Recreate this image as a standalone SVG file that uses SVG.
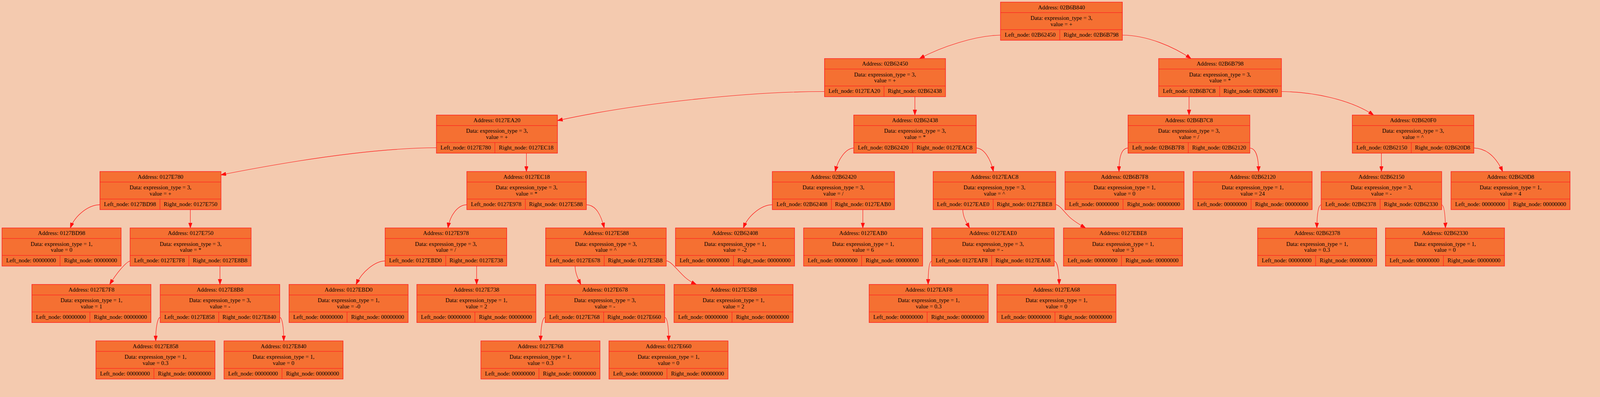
<svg xmlns="http://www.w3.org/2000/svg" width="4192" height="1017" viewBox="0 0 4192 1017">
<style>
.node rect{fill:#F57032;stroke:#FF2020;stroke-width:1.5}
.node path{fill:none;stroke:#FF2020;stroke-width:1.3}
text{font-family:"Liberation Serif","Times New Roman",serif;font-size:15.4px;fill:#000;text-anchor:middle}
#edges path{fill:none;stroke:#FF1010;stroke-width:1.2;marker-end:url(#arr)}
</style>
<defs>
<marker id="arr" markerUnits="userSpaceOnUse" markerWidth="14" markerHeight="10" refX="14" refY="5" orient="auto"><path d="M0,0 L14,5 L0,10 z" fill="#FF1010" stroke="#FF1010" stroke-width="1"/></marker>
</defs>
<rect width="4192" height="1017" fill="#F4CAAF"/>
<g id="diagram" transform="scale(0.96)">
<g id="edges">
<path d="M2668,93.7 C2600,95 2510,125 2452,156.3"/>
<path d="M2993,93.7 C3060,94 3130,125 3176,156.3"/>
<path d="M2198.7,244.3 C2000,244 1700,275 1486.5,321.7"/>
<path d="M2439.7,258 L2439.7,307"/>
<path d="M3170.8,258 L3170.8,307"/>
<path d="M3417.2,244.3 C3500,245 3600,265 3663,307"/>
<path d="M1163.8,394.3 C1000,395 800,425 589,466.7"/>
<path d="M1403.7,408.7 L1403.7,457.7"/>
<path d="M2276.8,395 C2255,396 2235,425 2227.2,457.7"/>
<path d="M2603.6,395 C2625,396 2642,425 2649,457.7"/>
<path d="M3008.1,395 C2990,396 2984,420 2984,457.7"/>
<path d="M3332.9,395 C3350,396 3356,420 3356.3,457.7"/>
<path d="M3683.7,408.7 L3683.7,457.7"/>
<path d="M3930.2,395 C3965,396 3990,420 4007.2,457.7"/>
<path d="M266.5,546.3 C235,547 200,575 187.5,608.3"/>
<path d="M507.6,559.3 L507.6,608.3"/>
<path d="M1244.9,546.3 C1220,547 1200,575 1194.6,608.3"/>
<path d="M1563.6,546.3 C1590,547 1603,575 1611.2,608.3"/>
<path d="M2059.5,546.3 C2030,547 1995,575 1982.2,608.3"/>
<path d="M2300.9,559.3 L2300.9,608.3"/>
<path d="M2567.4,559.3 C2568,580 2578,595 2585.5,608.3"/>
<path d="M2815.2,546 C2826,547 2838,566 2853,580 C2866,592 2882,601 2894.9,608.3"/>
<path d="M3523,546.3 C3515,548 3512,575 3511.6,608.3"/>
<path d="M3844.5,546.3 C3852,548 3854,575 3854.5,608.3"/>
<path d="M346.9,696.3 C335,700 310,730 292.6,759"/>
<path d="M586.6,710 L586.6,759"/>
<path d="M1027,696.3 C1000,697 965,725 949.6,759"/>
<path d="M1271,710 L1271,759"/>
<path d="M1533.5,710 C1534,730 1542,745 1549,759"/>
<path d="M1776.6,696 C1790,697 1805,720 1826.8,740 C1838,750 1848,755 1857,759"/>
<path d="M2484.4,696.7 C2477,698 2475,725 2475,759"/>
<path d="M2811.2,696.7 C2820,698 2824,725 2824.5,759"/>
<path d="M427.2,846.7 C420,848 415,875 415.2,909.7"/>
<path d="M746,846.7 C753,848 756.5,875 756.7,909.7"/>
<path d="M1453.8,846.7 C1446,848 1442,875 1441.7,909.7"/>
<path d="M1772.6,846.7 C1780,848 1783,875 1783.3,909.7"/>
</g>

<g id="n_02B6B840" class="node" transform="translate(2668,5.7)"><rect width="325" height="101.7"/><path d="M0,28H325M0,73.3H325M158,73.3V101.7"/><text x="162.5" y="19">Address: 02B6B840</text><text x="162.5" y="47.5">Data: expression_type = 3,</text><text x="162.5" y="64">value = +</text><text x="79" y="92">Left_node: 02B62450</text><text x="241.5" y="92">Right_node: 02B6B798</text></g>

<g id="n_02B62450" class="node" transform="translate(2198.7,156.3)"><rect width="322.7" height="101.7"/><path d="M0,28H322.7M0,73.3H322.7M158.7,73.3V101.7"/><text x="161.35" y="19">Address: 02B62450</text><text x="161.35" y="47.5">Data: expression_type = 3,</text><text x="161.35" y="64">value = +</text><text x="79.35" y="92">Left_node: 0127EA20</text><text x="240.7" y="92">Right_node: 02B62438</text></g>

<g id="n_02B6B798" class="node" transform="translate(3089.7,156.3)"><rect width="327.5" height="101.7"/><path d="M0,28H327.5M0,73.3H327.5M162.8,73.3V101.7"/><text x="163.75" y="19">Address: 02B6B798</text><text x="163.75" y="47.5">Data: expression_type = 3,</text><text x="163.75" y="64">value = *</text><text x="81.4" y="92">Left_node: 02B6B7C8</text><text x="245.15" y="92">Right_node: 02B620F0</text></g>

<g id="n_0127EA20" class="node" transform="translate(1163.8,307)"><rect width="322.7" height="101.7"/><path d="M0,28H322.7M0,73.3H322.7M155.8,73.3V101.7"/><text x="161.35" y="19">Address: 0127EA20</text><text x="161.35" y="47.5">Data: expression_type = 3,</text><text x="161.35" y="64">value = +</text><text x="77.9" y="92">Left_node: 0127E780</text><text x="239.25" y="92">Right_node: 0127EC18</text></g>

<g id="n_02B62438" class="node" transform="translate(2276.6,307)"><rect width="326.8" height="101.7"/><path d="M0,28H326.8M0,73.3H326.8M157,73.3V101.7"/><text x="163.4" y="19">Address: 02B62438</text><text x="163.4" y="47.5">Data: expression_type = 3,</text><text x="163.4" y="64">value = *</text><text x="78.5" y="92">Left_node: 02B62420</text><text x="241.9" y="92">Right_node: 0127EAC8</text></g>

<g id="n_02B6B7C8" class="node" transform="translate(3008.1,307)"><rect width="324.8" height="101.7"/><path d="M0,28H324.8M0,73.3H324.8M160.7,73.3V101.7"/><text x="162.4" y="19">Address: 02B6B7C8</text><text x="162.4" y="47.5">Data: expression_type = 3,</text><text x="162.4" y="64">value = /</text><text x="80.35" y="92">Left_node: 02B6B7F8</text><text x="242.75" y="92">Right_node: 02B62120</text></g>

<g id="n_02B620F0" class="node" transform="translate(3606.1,307)"><rect width="324.1" height="101.7"/><path d="M0,28H324.1M0,73.3H324.1M157.3,73.3V101.7"/><text x="162.05" y="19">Address: 02B620F0</text><text x="162.05" y="47.5">Data: expression_type = 3,</text><text x="162.05" y="64">value = ^</text><text x="78.65" y="92">Left_node: 02B62150</text><text x="240.7" y="92">Right_node: 02B620D8</text></g>

<g id="n_0127E780" class="node" transform="translate(266.5,457.7)"><rect width="322.8" height="101.7"/><path d="M0,28H322.8M0,73.3H322.8M160.1,73.3V101.7"/><text x="161.4" y="19">Address: 0127E780</text><text x="161.4" y="47.5">Data: expression_type = 3,</text><text x="161.4" y="64">value = +</text><text x="80.05" y="92">Left_node: 0127BD98</text><text x="241.45" y="92">Right_node: 0127E750</text></g>

<g id="n_0127EC18" class="node" transform="translate(1244.9,457.7)"><rect width="318.7" height="101.7"/><path d="M0,28H318.7M0,73.3H318.7M156,73.3V101.7"/><text x="159.35" y="19">Address: 0127EC18</text><text x="159.35" y="47.5">Data: expression_type = 3,</text><text x="159.35" y="64">value = *</text><text x="78" y="92">Left_node: 0127E978</text><text x="237.35" y="92">Right_node: 0127E588</text></g>

<g id="n_02B62420" class="node" transform="translate(2059.5,457.7)"><rect width="325.8" height="101.7"/><path d="M0,28H325.8M0,73.3H325.8M157.7,73.3V101.7"/><text x="162.9" y="19">Address: 02B62420</text><text x="162.9" y="47.5">Data: expression_type = 3,</text><text x="162.9" y="64">value = /</text><text x="78.85" y="92">Left_node: 02B62408</text><text x="241.75" y="92">Right_node: 0127EAB0</text></g>

<g id="n_0127EAC8" class="node" transform="translate(2488.4,457.7)"><rect width="326.8" height="101.7"/><path d="M0,28H326.8M0,73.3H326.8M160,73.3V101.7"/><text x="163.4" y="19">Address: 0127EAC8</text><text x="163.4" y="47.5">Data: expression_type = 3,</text><text x="163.4" y="64">value = ^</text><text x="80" y="92">Left_node: 0127EAE0</text><text x="243.4" y="92">Right_node: 0127EBE8</text></g>

<g id="n_02B6B7F8" class="node" transform="translate(2840,457.7)"><rect width="317.5" height="101.7"/><path d="M0,28H317.5M0,73.3H317.5M154.7,73.3V101.7"/><text x="158.75" y="19">Address: 02B6B7F8</text><text x="158.75" y="47.5">Data: expression_type = 1,</text><text x="158.75" y="64">value = 0</text><text x="77.35" y="92">Left_node: 00000000</text><text x="236.1" y="92">Right_node: 00000000</text></g>

<g id="n_02B62120" class="node" transform="translate(3181.5,457.7)"><rect width="317.5" height="101.7"/><path d="M0,28H317.5M0,73.3H317.5M154.7,73.3V101.7"/><text x="158.75" y="19">Address: 02B62120</text><text x="158.75" y="47.5">Data: expression_type = 1,</text><text x="158.75" y="64">value = 24</text><text x="77.35" y="92">Left_node: 00000000</text><text x="236.1" y="92">Right_node: 00000000</text></g>

<g id="n_02B62150" class="node" transform="translate(3523,457.7)"><rect width="321.5" height="101.7"/><path d="M0,28H321.5M0,73.3H321.5M157.4,73.3V101.7"/><text x="160.75" y="19">Address: 02B62150</text><text x="160.75" y="47.5">Data: expression_type = 3,</text><text x="160.75" y="64">value = -</text><text x="78.7" y="92">Left_node: 02B62378</text><text x="239.45" y="92">Right_node: 02B62330</text></g>

<g id="n_02B620D8" class="node" transform="translate(3869.3,457.7)"><rect width="317.5" height="101.7"/><path d="M0,28H317.5M0,73.3H317.5M154.7,73.3V101.7"/><text x="158.75" y="19">Address: 02B620D8</text><text x="158.75" y="47.5">Data: expression_type = 1,</text><text x="158.75" y="64">value = 4</text><text x="77.35" y="92">Left_node: 00000000</text><text x="236.1" y="92">Right_node: 00000000</text></g>

<g id="n_0127BD98" class="node" transform="translate(5.4,608.3)"><rect width="317.5" height="101.7"/><path d="M0,28H317.5M0,73.3H317.5M154.7,73.3V101.7"/><text x="158.75" y="19">Address: 0127BD98</text><text x="158.75" y="47.5">Data: expression_type = 1,</text><text x="158.75" y="64">value = 0</text><text x="77.35" y="92">Left_node: 00000000</text><text x="236.1" y="92">Right_node: 00000000</text></g>

<g id="n_0127E750" class="node" transform="translate(346.9,608.3)"><rect width="322.7" height="101.7"/><path d="M0,28H322.7M0,73.3H322.7M156.7,73.3V101.7"/><text x="161.35" y="19">Address: 0127E750</text><text x="161.35" y="47.5">Data: expression_type = 3,</text><text x="161.35" y="64">value = *</text><text x="78.35" y="92">Left_node: 0127E7F8</text><text x="239.7" y="92">Right_node: 0127E8B8</text></g>

<g id="n_0127E978" class="node" transform="translate(1027,608.3)"><rect width="324.3" height="101.7"/><path d="M0,28H324.3M0,73.3H324.3M161.6,73.3V101.7"/><text x="162.15" y="19">Address: 0127E978</text><text x="162.15" y="47.5">Data: expression_type = 3,</text><text x="162.15" y="64">value = /</text><text x="80.8" y="92">Left_node: 0127EBD0</text><text x="242.95" y="92">Right_node: 0127E738</text></g>

<g id="n_0127E588" class="node" transform="translate(1455.1,608.3)"><rect width="321.5" height="101.7"/><path d="M0,28H321.5M0,73.3H321.5M156.1,73.3V101.7"/><text x="160.75" y="19">Address: 0127E588</text><text x="160.75" y="47.5">Data: expression_type = 3,</text><text x="160.75" y="64">value = ^</text><text x="78.05" y="92">Left_node: 0127E678</text><text x="238.8" y="92">Right_node: 0127E5B8</text></g>

<g id="n_02B62408" class="node" transform="translate(1801.3,608.3)"><rect width="317.5" height="101.7"/><path d="M0,28H317.5M0,73.3H317.5M154.7,73.3V101.7"/><text x="158.75" y="19">Address: 02B62408</text><text x="158.75" y="47.5">Data: expression_type = 1,</text><text x="158.75" y="64">value = -2</text><text x="77.35" y="92">Left_node: 00000000</text><text x="236.1" y="92">Right_node: 00000000</text></g>

<g id="n_0127EAB0" class="node" transform="translate(2142.9,608.3)"><rect width="317.5" height="101.7"/><path d="M0,28H317.5M0,73.3H317.5M154.7,73.3V101.7"/><text x="158.75" y="19">Address: 0127EAB0</text><text x="158.75" y="47.5">Data: expression_type = 1,</text><text x="158.75" y="64">value = 6</text><text x="77.35" y="92">Left_node: 00000000</text><text x="236.1" y="92">Right_node: 00000000</text></g>

<g id="n_0127EAE0" class="node" transform="translate(2484.4,608.3)"><rect width="326.8" height="101.7"/><path d="M0,28H326.8M0,73.3H326.8M160,73.3V101.7"/><text x="163.4" y="19">Address: 0127EAE0</text><text x="163.4" y="47.5">Data: expression_type = 3,</text><text x="163.4" y="64">value = -</text><text x="80" y="92">Left_node: 0127EAF8</text><text x="243.4" y="92">Right_node: 0127EA68</text></g>

<g id="n_0127EBE8" class="node" transform="translate(2835.9,608.3)"><rect width="317.5" height="101.7"/><path d="M0,28H317.5M0,73.3H317.5M154.7,73.3V101.7"/><text x="158.75" y="19">Address: 0127EBE8</text><text x="158.75" y="47.5">Data: expression_type = 1,</text><text x="158.75" y="64">value = 3</text><text x="77.35" y="92">Left_node: 00000000</text><text x="236.1" y="92">Right_node: 00000000</text></g>

<g id="n_02B62378" class="node" transform="translate(3353.6,608.3)"><rect width="317.5" height="101.7"/><path d="M0,28H317.5M0,73.3H317.5M154.7,73.3V101.7"/><text x="158.75" y="19">Address: 02B62378</text><text x="158.75" y="47.5">Data: expression_type = 1,</text><text x="158.75" y="64">value = 0.3</text><text x="77.35" y="92">Left_node: 00000000</text><text x="236.1" y="92">Right_node: 00000000</text></g>

<g id="n_02B62330" class="node" transform="translate(3694.5,608.3)"><rect width="317.5" height="101.7"/><path d="M0,28H317.5M0,73.3H317.5M154.7,73.3V101.7"/><text x="158.75" y="19">Address: 02B62330</text><text x="158.75" y="47.5">Data: expression_type = 1,</text><text x="158.75" y="64">value = 0</text><text x="77.35" y="92">Left_node: 00000000</text><text x="236.1" y="92">Right_node: 00000000</text></g>

<g id="n_0127E7F8" class="node" transform="translate(85,759)"><rect width="317.5" height="101.7"/><path d="M0,28H317.5M0,73.3H317.5M154.7,73.3V101.7"/><text x="158.75" y="19">Address: 0127E7F8</text><text x="158.75" y="47.5">Data: expression_type = 1,</text><text x="158.75" y="64">value = 1</text><text x="77.35" y="92">Left_node: 00000000</text><text x="236.1" y="92">Right_node: 00000000</text></g>

<g id="n_0127E8B8" class="node" transform="translate(427.2,759)"><rect width="318.8" height="101.7"/><path d="M0,28H318.8M0,73.3H318.8M156.1,73.3V101.7"/><text x="159.4" y="19">Address: 0127E8B8</text><text x="159.4" y="47.5">Data: expression_type = 3,</text><text x="159.4" y="64">value = -</text><text x="78.05" y="92">Left_node: 0127E858</text><text x="237.45" y="92">Right_node: 0127E840</text></g>

<g id="n_0127EBD0" class="node" transform="translate(770.8,759)"><rect width="317.5" height="101.7"/><path d="M0,28H317.5M0,73.3H317.5M154.7,73.3V101.7"/><text x="158.75" y="19">Address: 0127EBD0</text><text x="158.75" y="47.5">Data: expression_type = 1,</text><text x="158.75" y="64">value = -0</text><text x="77.35" y="92">Left_node: 00000000</text><text x="236.1" y="92">Right_node: 00000000</text></g>

<g id="n_0127E738" class="node" transform="translate(1111.6,759)"><rect width="317.5" height="101.7"/><path d="M0,28H317.5M0,73.3H317.5M154.7,73.3V101.7"/><text x="158.75" y="19">Address: 0127E738</text><text x="158.75" y="47.5">Data: expression_type = 1,</text><text x="158.75" y="64">value = 2</text><text x="77.35" y="92">Left_node: 00000000</text><text x="236.1" y="92">Right_node: 00000000</text></g>

<g id="n_0127E678" class="node" transform="translate(1453.8,759)"><rect width="318.8" height="101.7"/><path d="M0,28H318.8M0,73.3H318.8M156,73.3V101.7"/><text x="159.4" y="19">Address: 0127E678</text><text x="159.4" y="47.5">Data: expression_type = 3,</text><text x="159.4" y="64">value = -</text><text x="78" y="92">Left_node: 0127E768</text><text x="237.4" y="92">Right_node: 0127E660</text></g>

<g id="n_0127E5B8" class="node" transform="translate(1797.3,759)"><rect width="317.5" height="101.7"/><path d="M0,28H317.5M0,73.3H317.5M154.7,73.3V101.7"/><text x="158.75" y="19">Address: 0127E5B8</text><text x="158.75" y="47.5">Data: expression_type = 1,</text><text x="158.75" y="64">value = 2</text><text x="77.35" y="92">Left_node: 00000000</text><text x="236.1" y="92">Right_node: 00000000</text></g>

<g id="n_0127EAF8" class="node" transform="translate(2317.7,759)"><rect width="317.5" height="101.7"/><path d="M0,28H317.5M0,73.3H317.5M154.7,73.3V101.7"/><text x="158.75" y="19">Address: 0127EAF8</text><text x="158.75" y="47.5">Data: expression_type = 1,</text><text x="158.75" y="64">value = 0.3</text><text x="77.35" y="92">Left_node: 00000000</text><text x="236.1" y="92">Right_node: 00000000</text></g>

<g id="n_0127EA68" class="node" transform="translate(2658.5,759)"><rect width="317.5" height="101.7"/><path d="M0,28H317.5M0,73.3H317.5M154.7,73.3V101.7"/><text x="158.75" y="19">Address: 0127EA68</text><text x="158.75" y="47.5">Data: expression_type = 1,</text><text x="158.75" y="64">value = 0</text><text x="77.35" y="92">Left_node: 00000000</text><text x="236.1" y="92">Right_node: 00000000</text></g>

<g id="n_0127E858" class="node" transform="translate(255.8,909.7)"><rect width="317.5" height="101.7"/><path d="M0,28H317.5M0,73.3H317.5M154.7,73.3V101.7"/><text x="158.75" y="19">Address: 0127E858</text><text x="158.75" y="47.5">Data: expression_type = 1,</text><text x="158.75" y="64">value = 0.3</text><text x="77.35" y="92">Left_node: 00000000</text><text x="236.1" y="92">Right_node: 00000000</text></g>

<g id="n_0127E840" class="node" transform="translate(597.3,909.7)"><rect width="317.5" height="101.7"/><path d="M0,28H317.5M0,73.3H317.5M154.7,73.3V101.7"/><text x="158.75" y="19">Address: 0127E840</text><text x="158.75" y="47.5">Data: expression_type = 1,</text><text x="158.75" y="64">value = 0</text><text x="77.35" y="92">Left_node: 00000000</text><text x="236.1" y="92">Right_node: 00000000</text></g>

<g id="n_0127E768" class="node" transform="translate(1282.4,909.7)"><rect width="317.5" height="101.7"/><path d="M0,28H317.5M0,73.3H317.5M154.7,73.3V101.7"/><text x="158.75" y="19">Address: 0127E768</text><text x="158.75" y="47.5">Data: expression_type = 1,</text><text x="158.75" y="64">value = 0.3</text><text x="77.35" y="92">Left_node: 00000000</text><text x="236.1" y="92">Right_node: 00000000</text></g>

<g id="n_0127E660" class="node" transform="translate(1623.9,909.7)"><rect width="317.5" height="101.7"/><path d="M0,28H317.5M0,73.3H317.5M154.7,73.3V101.7"/><text x="158.75" y="19">Address: 0127E660</text><text x="158.75" y="47.5">Data: expression_type = 1,</text><text x="158.75" y="64">value = 0</text><text x="77.35" y="92">Left_node: 00000000</text><text x="236.1" y="92">Right_node: 00000000</text></g>
</g>
</svg>
